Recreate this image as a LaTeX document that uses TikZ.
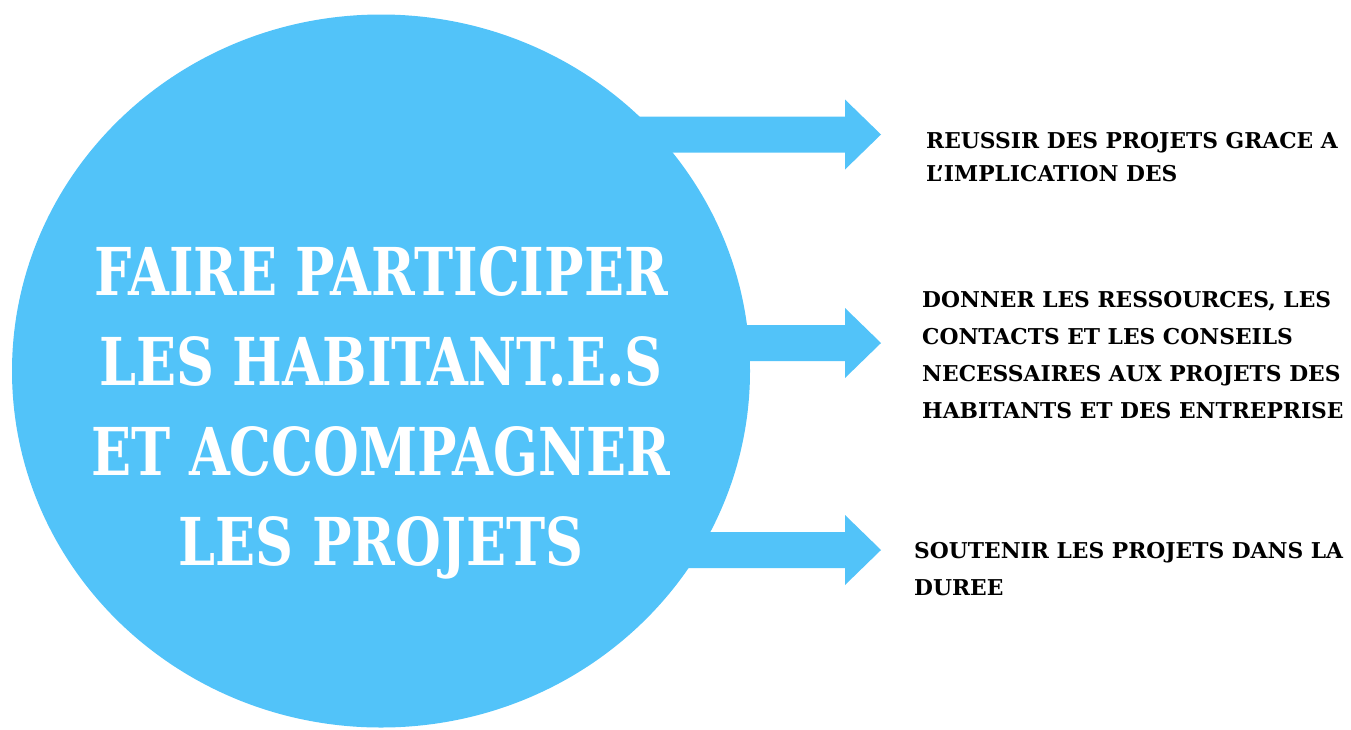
\documentclass[tikz,border=0pt]{standalone}
\usepackage{fontspec}
\setmainfont{DejaVu Serif}
\newfontfamily\titlefont{DejaVu Serif Condensed}[FakeStretch=0.885]
\usetikzlibrary{shapes.geometric}
\definecolor{skyfill}{RGB}{82,195,249}
\begin{document}
\begin{tikzpicture}[x=1pt,y=-1pt,
  hub/.style={ellipse,fill=skyfill,inner sep=0pt,minimum width=738pt,minimum height=713pt},
  hubtext/.style={text=white,font=\titlefont\bfseries\fontsize{66}{90}\selectfont,inner sep=0pt,anchor=base},
  goal/.style={text=black,font=\bfseries\fontsize{21.8}{36.7}\selectfont,align=left,inner sep=0pt,anchor=base west},
  flowarrow/.style={fill=skyfill}]
  \useasboundingbox (0,0) rectangle (1351,729);
  % arrows leaving the central disc
  \foreach \name/\yc in {topa/134.5, mida/343, bota/550}{
    \fill[flowarrow] (560,\yc-18) -- (845,\yc-18) -- (845,\yc-35) -- (881,\yc)
      -- (845,\yc+35) -- (845,\yc+18) -- (560,\yc+18) -- cycle;
    \coordinate (\name) at (881,\yc);
  }
  % central disc
  \node[hub] (center) at (381,371) {};
  \node[hubtext] (title1) at (381,295) {FAIRE PARTICIPER};
  \node[hubtext] (title2) at (381,385) {LES HABITANT.E.S};
  \node[hubtext] (title3) at (381,475) {ET ACCOMPAGNER};
  \node[hubtext] (title4) at (381,565) {LES PROJETS};
  % goals (anchored on the baseline of their last line)
  \node[goal,font=\bfseries\fontsize{21.8}{33.7}\selectfont] (g1) at (926,181.7) {REUSSIR DES PROJETS GRACE A\\L’IMPLICATION DES};
  \node[goal] (g2) at (922,418) {DONNER LES RESSOURCES, LES\\CONTACTS ET LES CONSEILS\\NECESSAIRES AUX PROJETS DES\\HABITANTS ET DES ENTREPRISE};
  \node[goal] (g3) at (914,595) {SOUTENIR LES PROJETS DANS LA\\DUREE};
\end{tikzpicture}
\end{document}
